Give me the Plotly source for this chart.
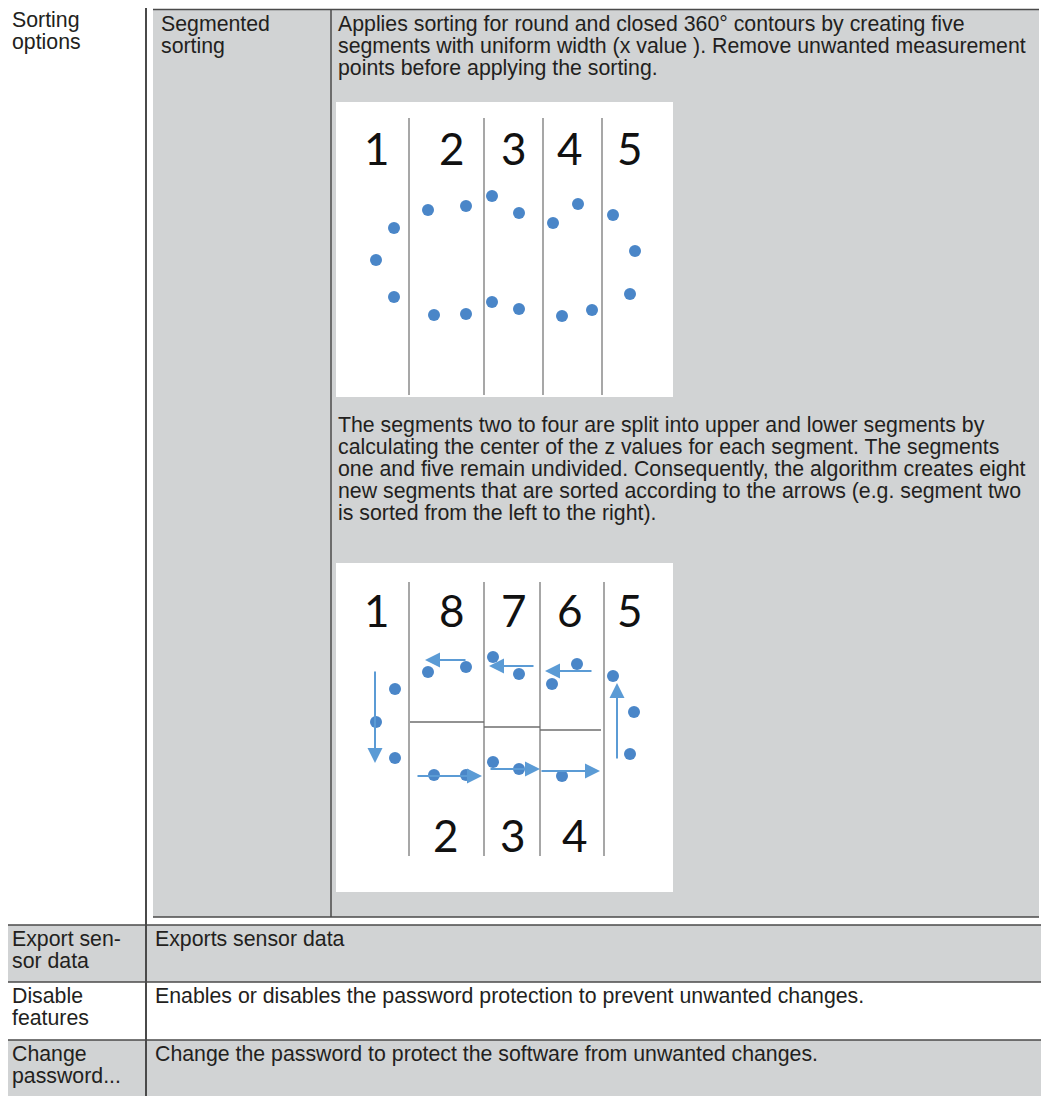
import plotly.graph_objects as go

W, H = 1049, 1096          # reference page size in pixels
OFF = 8                    # browser body margin that the page adds

# ---------------- data ----------------
ROW1_LABEL = ["Sorting", "options"]
SUB_LABEL = ["Segmented", "sorting"]
PARA1 = [
    "Applies sorting for round and closed 360° contours by creating five",
    "segments with uniform width (x value ). Remove unwanted measurement",
    "points before applying the sorting.",
]
PARA2 = [
    "The segments two to four are split into upper and lower segments by",
    "calculating the center of the z values for each segment. The segments",
    "one and five remain undivided. Consequently, the algorithm creates eight",
    "new segments that are sorted according to the arrows (e.g. segment two",
    "is sorted from the left to the right).",
]
ROW_LABELS = [["Export sen-", "sor data"], ["Disable", "features"], ["Change", "password..."]]
ROW_TEXTS = [
    "Exports sensor data",
    "Enables or disables the password protection to prevent unwanted changes.",
    "Change the password to protect the software from unwanted changes.",
]

# diagram 1 (segmented)
SEG_LABELS_1 = ["1", "2", "3", "4", "5"]
SEG_LABEL_X_1 = [41, 116, 178, 234, 294]
SEG_LABEL_Y_1 = [46, 46, 46, 46, 46]
SEG_BOUNDS_1 = [73, 148, 207, 266]
DOTS1_X = [58, 40, 58, 92, 130, 98, 130, 156, 183, 156, 183, 217, 242, 226, 256, 277, 299, 294]
DOTS1_Y = [126, 158, 195, 108, 104, 213, 212, 94, 111, 200, 207, 121, 102, 214, 208, 113, 149, 192]

# diagram 2 (eight sorted segments)
TOP_LABELS_2 = ["1", "8", "7", "6", "5"]
TOP_LABEL_X_2 = [41, 116, 178, 234, 294]
BOTTOM_LABELS_2 = ["2", "3", "4"]
BOTTOM_LABEL_X_2 = [110, 177, 239]
SEG_BOUNDS_2 = [73, 148, 204, 268]
SPLIT_X0_2 = [74, 148, 204]
SPLIT_X1_2 = [148, 204, 265]
SPLIT_Z_2 = [159, 164, 167]
DOTS2_X = [59, 40, 59, 92, 130, 98, 130, 157, 183, 157, 183, 216, 241, 226, 277, 298, 294]
DOTS2_Y = [126, 159, 195, 109, 104, 212, 212, 94, 111, 199, 206, 121, 101, 213, 113, 149, 191]
ARROW_TAIL_X = [39, 131, 199, 257, 281, 80, 153, 204]
ARROW_TAIL_Y = [107, 97, 103, 108, 197, 213, 206, 208]
ARROW_TIP_X = [39, 89, 153, 209, 281, 146, 204, 264]
ARROW_TIP_Y = [200, 97, 103, 108, 120, 213, 206, 208]

# ---------------- styles / layout ----------------
TXT = "#231f20"
GRAY = "#d1d3d4"
LINE = "#4a4a4a"
DOT = "#4a86c8"
ARROW = "#5b9bd5"
SEGLINE = "#8a8a8a"
FONT = "Liberation Sans, Arial, sans-serif"
FS = 21.3
LH = 22
BASE_OFF = 0.3465 * FS

FW, FH = W - OFF, H - OFF


def fx(p):
    return (p - OFF) / FW


def fy(p):
    return 1 - (p - OFF) / FH


BOX1 = (336, 673, 102, 397)
BOX2 = (336, 673, 563, 892)

fig = go.Figure()

fig.add_trace(go.Scatter(x=DOTS1_X, y=DOTS1_Y, mode="markers", xaxis="x", yaxis="y",
                         marker=dict(size=12, color=DOT), hoverinfo="skip", showlegend=False))
fig.add_trace(go.Scatter(x=DOTS2_X, y=DOTS2_Y, mode="markers", xaxis="x2", yaxis="y2",
                         marker=dict(size=12, color=DOT), hoverinfo="skip", showlegend=False))

shapes = []


def rect(x0, x1, y0, y1, color):
    shapes.append(dict(type="rect", xref="paper", yref="paper", x0=fx(x0), x1=fx(x1),
                       y0=fy(y1), y1=fy(y0), fillcolor=color, line=dict(width=0), layer="below"))


def hline(x0, x1, y, w=1.5, c=LINE):
    shapes.append(dict(type="line", xref="paper", yref="paper", x0=fx(x0), x1=fx(x1),
                       y0=fy(y), y1=fy(y), line=dict(color=c, width=w), layer="below"))


def vline(x, y0, y1, w=1.5, c=LINE):
    shapes.append(dict(type="line", xref="paper", yref="paper", x0=fx(x), x1=fx(x),
                       y0=fy(y1), y1=fy(y0), line=dict(color=c, width=w), layer="below"))


# fills
rect(153, 1039, 10, 917, GRAY)
rect(OFF, 1047, 925, 982, GRAY)
rect(OFF, 1047, 1040, H + 2, GRAY)
rect(BOX1[0], BOX1[1], BOX1[2], BOX1[3], "white")
rect(BOX2[0], BOX2[1], BOX2[2], BOX2[3], "white")
# lines
vline(146, OFF, H, 2)
hline(153, 1039, 9.5)
vline(331, 9.5, 917)
hline(153, 1039, 917)
for yy in (925, 982, 1040):
    hline(OFF, 1047, yy)

# diagram segment boundaries
for b in SEG_BOUNDS_1:
    shapes.append(dict(type="line", xref="x", yref="y", x0=b, x1=b, y0=16, y1=293,
                       line=dict(color=SEGLINE, width=1.5)))
for b in SEG_BOUNDS_2:
    shapes.append(dict(type="line", xref="x2", yref="y2", x0=b, x1=b, y0=19, y1=293,
                       line=dict(color=SEGLINE, width=1.5)))
for x0, x1, z in zip(SPLIT_X0_2, SPLIT_X1_2, SPLIT_Z_2):
    shapes.append(dict(type="line", xref="x2", yref="y2", x0=x0, x1=x1, y0=z, y1=z,
                       line=dict(color="#6e6e6e", width=1.5)))

ann = []


def text_line(s, x, baseline):
    ann.append(dict(text=s, xref="paper", yref="paper", x=fx(x), y=fy(baseline - BASE_OFF),
                    xanchor="left", yanchor="middle", showarrow=False, borderpad=0,
                    font=dict(family=FONT, size=FS, color=TXT)))


for i, s in enumerate(ROW1_LABEL):
    text_line(s, 11, 27.5 + i * LH)
for i, s in enumerate(SUB_LABEL):
    text_line(s, 160, 31.5 + i * LH)
for i, s in enumerate(PARA1):
    text_line(s, 337, 31.5 + i * LH)
for i, s in enumerate(PARA2):
    text_line(s, 337, 432 + i * LH)
row_tops = [925, 982.5, 1040]
for top, labs, t in zip(row_tops, ROW_LABELS, ROW_TEXTS):
    for i, s in enumerate(labs):
        text_line(s, 11, top + 21 + i * LH)
    text_line(t, 154, top + 21)

DIGIT_FONT = dict(family="Lato, Carlito, sans-serif", size=44, color="#111111")
for s, x, y in zip(SEG_LABELS_1, SEG_LABEL_X_1, SEG_LABEL_Y_1):
    ann.append(dict(text=s, xref="x", yref="y", x=x, y=y, showarrow=False,
                    xanchor="center", yanchor="middle", font=DIGIT_FONT))
for s, x in zip(TOP_LABELS_2, TOP_LABEL_X_2):
    ann.append(dict(text=s, xref="x2", yref="y2", x=x, y=47, showarrow=False,
                    xanchor="center", yanchor="middle", font=DIGIT_FONT))
for s, x in zip(BOTTOM_LABELS_2, BOTTOM_LABEL_X_2):
    ann.append(dict(text=s, xref="x2", yref="y2", x=x, y=272, showarrow=False,
                    xanchor="center", yanchor="middle", font=DIGIT_FONT))
for tx, ty, hx, hy in zip(ARROW_TAIL_X, ARROW_TAIL_Y, ARROW_TIP_X, ARROW_TIP_Y):
    ann.append(dict(text="", xref="x2", yref="y2", axref="x2", ayref="y2",
                    x=hx, y=hy, ax=tx, ay=ty, showarrow=True, arrowhead=2,
                    arrowsize=1.5, arrowwidth=2, arrowcolor=ARROW, standoff=0))

ax_common = dict(visible=False, showgrid=False, zeroline=False, fixedrange=True)
fig.update_layout(
    width=FW, height=FH,
    margin=dict(l=0, r=0, t=0, b=0),
    paper_bgcolor="white", plot_bgcolor="rgba(0,0,0,0)",
    xaxis=dict(domain=[fx(BOX1[0]), fx(BOX1[1])], range=[0, BOX1[1] - BOX1[0]], **ax_common),
    yaxis=dict(domain=[fy(BOX1[3]), fy(BOX1[2])], range=[BOX1[3] - BOX1[2], 0], **ax_common),
    xaxis2=dict(domain=[fx(BOX2[0]), fx(BOX2[1])], range=[0, BOX2[1] - BOX2[0]], anchor="y2", **ax_common),
    yaxis2=dict(domain=[fy(BOX2[3]), fy(BOX2[2])], range=[BOX2[3] - BOX2[2], 0], anchor="x2", **ax_common),
    shapes=shapes,
    annotations=ann,
    showlegend=False,
)

fig.write_html("out.html")
